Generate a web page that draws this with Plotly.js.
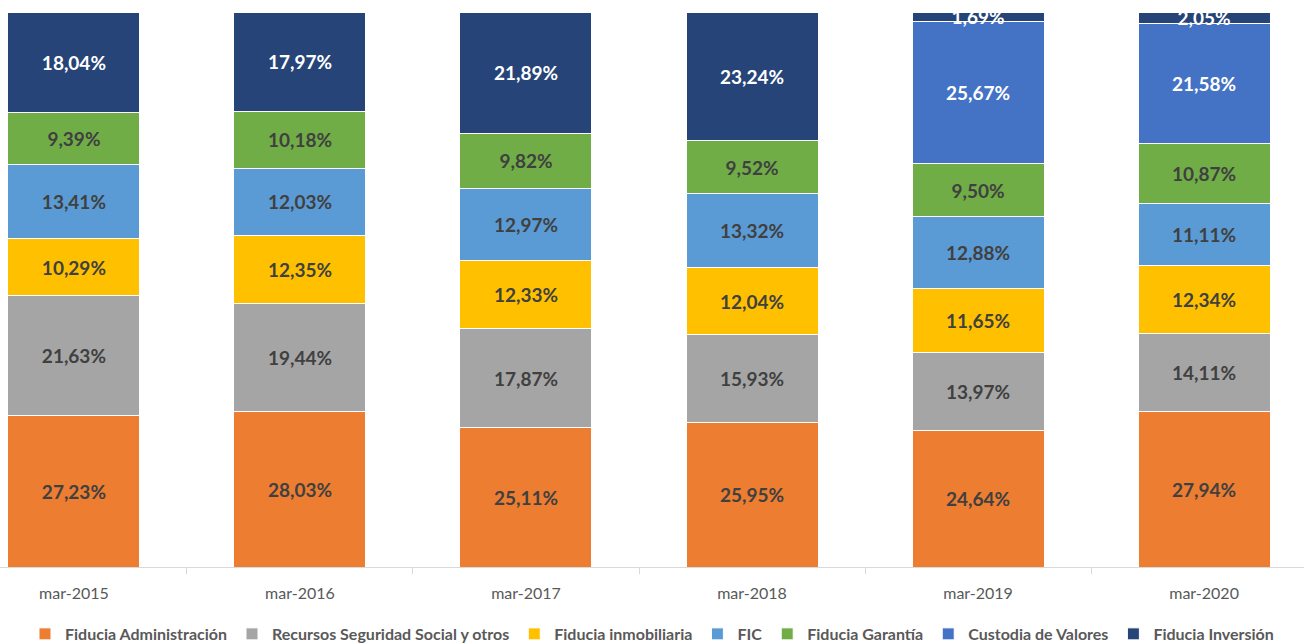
<!DOCTYPE html>
<html>
<head>
<meta charset="utf-8">
<script src="https://cdn.plot.ly/plotly-3.0.1.min.js"></script>
<style>html,body{margin:0;padding:0;background:#fff;}#chart{width:1304px;height:644px;}</style>
</head>
<body>
<div id="chart"></div>
<script>
const categories = ["mar-2015", "mar-2016", "mar-2017", "mar-2018", "mar-2019", "mar-2020"];
const fiduciaAdministracion = [27.23, 28.03, 25.11, 25.95, 24.64, 27.94];
const recursosSeguridadSocial = [21.63, 19.44, 17.87, 15.93, 13.97, 14.11];
const fiduciaInmobiliaria = [10.29, 12.35, 12.33, 12.04, 11.65, 12.34];
const fic = [13.41, 12.03, 12.97, 13.32, 12.88, 11.11];
const fiduciaGarantia = [9.39, 10.18, 9.82, 9.52, 9.50, 10.87];
const custodiaValores = [null, null, null, null, 25.67, 21.58];
const fiduciaInversion = [18.04, 17.97, 21.89, 23.24, 1.69, 2.05];

const seriesNames = ["Fiducia Administración", "Recursos Seguridad Social y otros", "Fiducia inmobiliaria", "FIC", "Fiducia Garantía", "Custodia de Valores", "Fiducia Inversión"];
const seriesValues = [fiduciaAdministracion, recursosSeguridadSocial, fiduciaInmobiliaria, fic, fiduciaGarantia, custodiaValores, fiduciaInversion];
const seriesColors = ["#ED7D31", "#A5A5A5", "#FFC000", "#5B9BD5", "#70AD47", "#4472C4", "#264478"];
const textColors = ["#404040", "#404040", "#404040", "#404040", "#404040", "#FFFFFF", "#FFFFFF"];

const traces = seriesNames.map((name, i) => ({
  type: "bar",
  name: name,
  x: categories,
  y: seriesValues[i],
  marker: { color: seriesColors[i], line: { color: "#FFFFFF", width: 1 } },
  texttemplate: "%{y:.2f}%",
  textposition: "inside",
  insidetextanchor: "middle",
  textangle: 0,
  textfont: { family: "Lato, sans-serif", size: 19, color: textColors[i], weight: "bold" },
  hoverinfo: "skip",
  cliponaxis: false
}));

const layout = {
  width: 1304,
  height: 644,
  margin: { l: 0, r: 0, t: 12, b: 77, autoexpand: false },
  paper_bgcolor: "#FFFFFF",
  plot_bgcolor: "#FFFFFF",
  barmode: "stack",
  bargap: 0.416,
  separators: ",.",
  uniformtext: { mode: "show", minsize: 19 },
  font: { family: "Lato, sans-serif", color: "#595959" },
  xaxis: {
    type: "category",
    range: [-0.327, 5.442],
    showline: true,
    linecolor: "#D9D9D9",
    linewidth: 1,
    ticks: "outside",
    tickson: "boundaries",
    ticklen: 6,
    tickcolor: "#D9D9D9",
    ticklabelstandoff: 12,
    showgrid: false,
    tickfont: { family: "Lato, sans-serif", size: 16, color: "#595959" },
    fixedrange: true
  },
  yaxis: {
    range: [0, 100],
    visible: false,
    showgrid: false,
    zeroline: false,
    fixedrange: true
  },
  showlegend: true,
  legend: {
    orientation: "h",
    x: 0.5,
    xanchor: "center",
    y: -0.09,
    yanchor: "top",
    traceorder: "normal",
    font: { family: "Lato, sans-serif", size: 16, color: "#595959", weight: "bold" },
    itemwidth: 30
  }
};

Plotly.newPlot("chart", traces, layout, { staticPlot: true, displayModeBar: false });
</script>
</body>
</html>
